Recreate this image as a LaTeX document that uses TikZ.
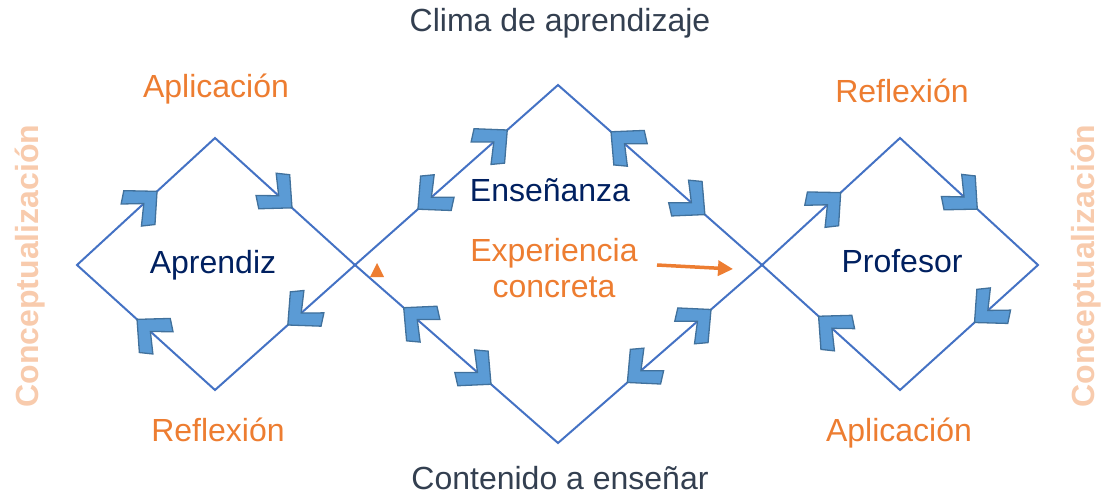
\documentclass[tikz,border=0pt]{standalone}
\usepackage{fontspec}
\setmainfont{Liberation Sans}
\usetikzlibrary{arrows.meta,decorations.markings}

\definecolor{rimblue}{HTML}{4472C4}
\definecolor{chevblue}{HTML}{5B9BD5}
\definecolor{chevedge}{HTML}{41719C}
\definecolor{orng}{HTML}{ED7D31}
\definecolor{paleorng}{HTML}{F8CBAD}
\definecolor{navy}{HTML}{002060}
\definecolor{slate}{HTML}{333F50}

\tikzset{
  chevfwd/.pic={\filldraw[fill=chevblue,draw=chevedge,line width=1.3pt]
    (0,0) -- (-24,23) -- (-35,15) -- (-18,0) -- (-35,-15) -- (-24,-23) -- cycle;},
  chevback/.pic={\filldraw[fill=chevblue,draw=chevedge,line width=1.3pt]
    (0,0) -- (24,23) -- (35,15) -- (18,0) -- (35,-15) -- (24,-23) -- cycle;},
  rim/.style={draw=rimblue,line width=2pt},
  one chev/.style={postaction={decorate},
    decoration={markings,mark=at position #1 with {\pic[transform shape]{chevfwd};}}},
  two chev/.style 2 args={postaction={decorate},
    decoration={markings,mark=at position #1 with {\pic[transform shape]{chevback};},
                         mark=at position #2 with {\pic[transform shape]{chevfwd};}}},
  title/.style={text=slate,anchor=base},
  stage/.style={text=orng,anchor=base},
  role/.style={text=navy,anchor=base},
  side/.style={text=paleorng,font=\fontsize{32}{36}\selectfont\bfseries,rotate=90,anchor=base}
}

\begin{document}
\begin{tikzpicture}[x=1pt,y=-1pt,font=\fontsize{32}{36}\selectfont,inner sep=0pt]
\useasboundingbox (0,0) rectangle (1102,495);

% left diamond:
\coordinate (aL) at (77,265);
\coordinate (aT) at (215,138);
\coordinate (aR) at (355,265);
\coordinate (aB) at (215,390);
\draw[rim] (aL) -- (aT) -- (aR) -- (aB) -- cycle;
\foreach \a/\b/\p in {aL/aT/0.58, aT/aR/0.55, aR/aB/0.48, aB/aL/0.565}
  \path[one chev=\p] (\a) -- (\b);

% middle diamond:
\coordinate (mL) at (355,265);
\coordinate (mT) at (558,85);
\coordinate (mR) at (762,265);
\coordinate (mB) at (558,443);
\draw[rim] (mL) -- (mT) -- (mR) -- (mB) -- cycle;
\path[two chev={0.31}{0.75}] (mL) -- (mT);
\path[two chev={0.26}{0.72}] (mT) -- (mR);
\path[two chev={0.25}{0.66}] (mR) -- (mB);
\path[two chev={0.33}{0.76}] (mB) -- (mL);

% right diamond:
\coordinate (pL) at (762,265);
\coordinate (pT) at (900,138);
\coordinate (pR) at (1038,265);
\coordinate (pB) at (900,390);
\draw[rim] (pL) -- (pT) -- (pR) -- (pB) -- cycle;
\foreach \a/\b/\p in {pL/pT/0.57, pT/pR/0.56, pR/pB/0.46, pB/pL/0.59}
  \path[one chev=\p] (\a) -- (\b);

% texts:
\node[title] (clima) at (560,32) {Clima de aprendizaje};
\node[title] (contenido) at (560,489) {Contenido a enseñar};

\node[stage] (aplicL) at (216,97) {Aplicación};
\node[stage] (reflexL) at (218,441) {Reflexión};
\node[stage] (reflexR) at (902,102) {Reflexión};
\node[stage] (aplicR) at (899,441) {Aplicación};

\node[role] (aprendiz) at (213,273) {Aprendiz};
\node[role] (ensenanza) at (550,201) {Enseñanza};
\node[role] (profesor) at (902,272) {Profesor};

\node[stage] (exper) at (554,261) {Experiencia};
\node[stage] (concreta) at (554,297) {concreta};

\node[side] (conceptL) at (38,266) {Conceptualización};
\node[side] (conceptR) at (1094,266) {Conceptualización};

% orange marks:
\coordinate (arrS) at (657,265);
\coordinate (arrE) at (733,269);
\draw[orng,line width=3.5pt,-{Triangle[length=15pt,width=15pt]}] (arrS) -- (arrE);
\fill[orng] (377,263) -- (384,277) -- (370,277) -- cycle;

\end{tikzpicture}
\end{document}
